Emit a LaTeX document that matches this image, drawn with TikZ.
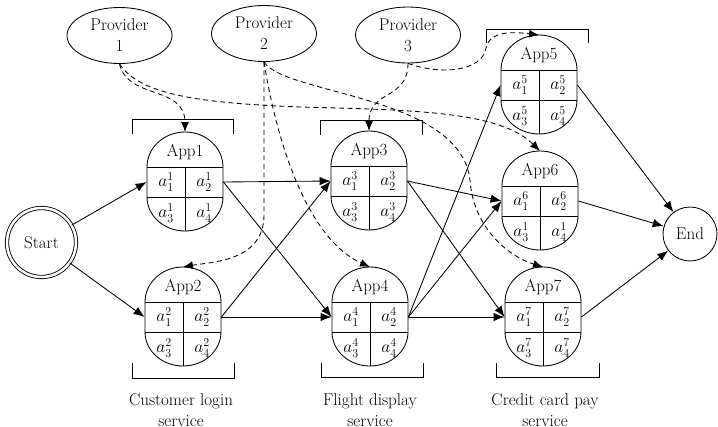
\documentclass[tikz,border=0pt]{standalone}
\usetikzlibrary{arrows.meta,shapes.geometric}

% One application unit: rounded capsule split into four cells.
% #1 name, #2 centre x, #3 y of the upper cell line, #4 title number,
% #5 superscript of the upper cells, #6 superscript of the lower cells
\newcommand\appunit[6]{%
  \begin{scope}[shift={(#2,-#3)}]
    \draw (-38,0) arc[start angle=180,end angle=0,x radius=38,y radius=35] -- (38,-30)
          arc[start angle=0,end angle=-180,x radius=38,y radius=34] -- cycle;
    \draw (-38,0) -- (38,0) (-38,-30) -- (38,-30) (0,0) -- (0,-64);
    \node[rowbox] (#1) at (0,-15) {};
    \coordinate (#1-top) at (0,35);
    \node[cell] (#1-title) at (0,15) {App#4};
    \node[cell] (#1-c1) at (-19,-15) {$a^{#5}_{1}$};
    \node[cell] (#1-c2) at (19,-15) {$a^{#5}_{2}$};
    \node[cell] (#1-c3) at (-19,-46) {$a^{#6}_{3}$};
    \node[cell] (#1-c4) at (19,-46) {$a^{#6}_{4}$};
  \end{scope}}

\begin{document}
\begin{tikzpicture}[x=1pt,y=1pt,line width=0.85pt,
  every node/.style={font=\fontsize{17}{21}\selectfont},
  cell/.style={inner sep=0.5pt},
  prov/.style={draw,ellipse,minimum width=105pt,minimum height=56pt,inner sep=0pt,align=center},
  rowbox/.style={inner sep=0pt,minimum width=76pt,minimum height=30pt},
  endpt/.style={draw,circle,inner sep=0pt},
  arr/.style={-{Latex[length=11pt,width=8.5pt]}},
  darr/.style={-{Latex[length=10pt,width=8pt]},dash pattern=on 5pt off 3.5pt},
  lbl/.style={align=center,inner sep=1pt}]

\useasboundingbox (0,0) rectangle (718,-426);

% providers
\node[prov] (p1) at (119.5,-35.5) {Provider\\1};
\node[prov] (p2) at (264,-33.5) {Provider\\2};
\node[prov] (p3) at (408,-35) {Provider\\3};

% start and end states
\node[endpt,double,double distance=2.5pt,minimum size=69pt] (start) at (41.5,-242.5) {Start};
\node[endpt,minimum size=54pt] (end) at (690,-234) {End};

% application units
\appunit{app1}{185}{167}{1}{1}{1}
\appunit{app2}{183}{302}{2}{2}{2}
\appunit{app3}{369}{166}{3}{3}{3}
\appunit{app4}{370}{302}{4}{4}{4}
\appunit{app5}{539}{70}{5}{5}{5}
\appunit{app6}{540}{186}{6}{6}{1}
\appunit{app7}{543}{302}{7}{7}{7}

% service brackets
\draw (132,-134) -- (132,-119) -- (233,-119) -- (233,-134);
\draw (320,-135) -- (320,-120) -- (422,-120) -- (422,-135);
\draw (486,-43) -- (486,-29) -- (588,-29) -- (588,-43);
\draw (132,-363) -- (132,-378) -- (234,-378) -- (234,-363);
\draw (321,-363) -- (321,-377) -- (423,-377) -- (423,-363);
\draw (496,-363) -- (496,-377) -- (599,-377) -- (599,-363);

% service names
\node[lbl] (s1) at (181,-410) {Customer login\\service};
\node[lbl] (s2) at (370,-410) {Flight display\\service};
\node[lbl] (s3) at (545,-410) {Credit card pay\\service};

% composition flow
\draw[arr] (start) -- (app1.west);
\draw[arr] (start) -- (app2.west);
\draw[arr] (app1.east) -- (app3.west);
\draw[arr] (app1.east) -- (app4.west);
\draw[arr] (app2.east) -- (app3.west);
\draw[arr] (app2.east) -- (app4.west);
\draw[arr] (app3.east) -- (app6.west);
\draw[arr] (app3.east) -- (app7.west);
\draw[arr] (app4.east) -- (app5.west);
\draw[arr] (app4.east) -- (app6.west);
\draw[arr] (app4.east) -- (app7.west);
\draw[arr] (app5.east) -- (end);
\draw[arr] (app6.east) -- (end);
\draw[arr] (app7.east) -- (end);

% provider offers
\draw[darr] (p1.south) .. controls (128,-100) and (185,-85) .. (app1-top);
\draw[darr] (p1.south) .. controls (140,-95) and (200,-103) .. (300,-107)
            .. controls (420,-110) and (500,-112) .. (app6-top);
\draw[darr] (p2.south) -- (264,-215) .. controls (264,-262) and (210,-262) .. (app2-top);
\draw[darr] (p2.south) .. controls (278,-150) and (310,-240) .. (app4-top);
\draw[darr] (p2.south) .. controls (285,-95) and (460,-95) .. (470,-180)
            .. controls (473,-225) and (505,-255) .. (app7-top);
\draw[darr] (p3.south) .. controls (408,-100) and (369,-90) .. (app3-top);
\draw[darr] (p3.south) .. controls (440,-75) and (482,-72) .. (486,-48)
            .. controls (490,-30) and (515,-32) .. (app5-top);

\end{tikzpicture}
\end{document}
